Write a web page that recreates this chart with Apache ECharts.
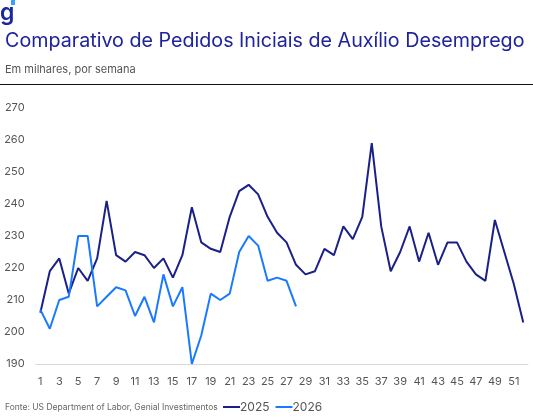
<!DOCTYPE html>
<html>
<head>
<meta charset="utf-8">
<script src="https://cdn.jsdelivr.net/npm/echarts@6/dist/echarts.min.js"></script>
<style>html,body{margin:0;padding:0;background:#fff;}#c{width:533px;height:419px;}</style>
</head>
<body>
<div id="c"></div>
<script>
var weeks = [];
for (var i = 1; i <= 52; i++) weeks.push(String(i));
var s2025 = [206,219,223,212,220,216,223,241,224,222,225,224,220,223,217,224,239,228,226,225,236,244,246,243,236,231,228,221,218,219,226,224,233,229,236,259,233,219,225,233,222,231,221,228,228,222,218,216,235,225,215,203];
var s2026 = [207,201,210,211,230,230,208,211,214,213,205,211,203,218,208,214,190,199,212,210,212,225,230,227,216,217,216,208];
var yTicks = [190,200,210,220,230,240,250,260,270];

var chart = echarts.init(document.getElementById('c'));
chart.setOption({
  animation: false,
  textStyle: {fontFamily: 'Inter'},
  graphic: [
    {type:'text', left:0, top:2, style:{text:'g', font:'600 23px Inter', fill:'#1b2a9a'}},
    {type:'rect', shape:{x:11, y:0, width:4, height:5}, style:{fill:'#3aa0ff'}},
    {type:'text', left:5, top:31, style:{text:'Comparativo de Pedidos Iniciais de Auxílio Desemprego', font:'19.7px Inter', fill:'#1f239c'}},
    {type:'text', left:5, top:64, style:{text:'Em milhares, por semana', font:'11px Inter', fill:'#555'}},
    {type:'line', shape:{x1:0, y1:84.5, x2:533, y2:84.5}, style:{stroke:'#111', lineWidth:1.2}},
    {type:'text', left:5, top:403, style:{text:'Fonte: US Department of Labor, Genial Investimentos', font:'8.5px Inter', fill:'#666'}}
  ],
  legend: {
    data: ['2025','2026'],
    left: 218, top: 396,
    itemWidth: 17, itemHeight: 2, itemGap: 6,
    icon: 'rect',
    textStyle: {fontSize: 12, color: '#555', padding:[0,0,0,-5]}
  },
  grid: {left: 35.6, right: 5, top: 108, bottom: 55},
  xAxis: {
    type: 'category', data: weeks, boundaryGap: true,
    axisLine: {lineStyle: {color: '#d9d9d9', width: 1}},
    axisTick: {show: false},
    axisLabel: {interval: 1, color: '#555', fontSize: 11, margin: 12}
  },
  yAxis: {
    type: 'value', min: yTicks[0], max: yTicks[yTicks.length-1], interval: 10,
    splitLine: {show: false},
    axisLine: {show: false}, axisTick: {show: false},
    axisLabel: {color: '#555', fontSize: 11, margin: 11}
  },
  series: [
    {name:'2025', type:'line', data:s2025, symbol:'none', lineStyle:{color:'#1b2088', width:2}, itemStyle:{color:'#1b2088'}},
    {name:'2026', type:'line', data:s2026, symbol:'none', lineStyle:{color:'#1a7aff', width:2}, itemStyle:{color:'#1a7aff'}}
  ]
});
</script>
</body>
</html>
